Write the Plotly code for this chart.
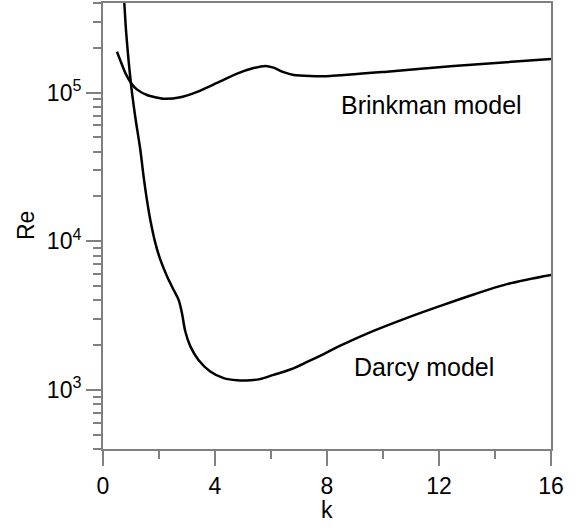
import plotly.graph_objects as go
import math

# Brinkman model curve
k_brinkman = [0.5, 0.62, 0.8, 1.0, 1.21, 1.57, 2.16, 2.76, 3.36, 4.07, 4.79, 5.38, 5.8, 6.09, 6.45,
              6.81, 7.4, 8.12, 10.14, 12.52, 16.0]
re_brinkman = [1.88e5, 1.64e5, 1.35e5, 1.16e5, 1.05e5, 9.62e4, 9.08e4, 9.29e4, 1.01e5, 1.16e5, 1.34e5,
               1.46e5, 1.51e5, 1.47e5, 1.37e5, 1.31e5, 1.29e5, 1.29e5, 1.38e5, 1.51e5, 1.68e5]

# Darcy model curve
k_darcy = [0.7, 0.76, 0.83, 1.0, 1.15, 1.33, 1.45, 1.57, 1.69, 1.87, 2.05, 2.29, 2.52, 2.70, 2.82,
           2.94, 3.12, 3.41, 3.83, 4.31, 4.79, 5.26, 5.6, 6.09, 6.69, 7.29, 7.88, 8.475, 9.66, 10.86,
           12.05, 13.24, 14.43, 16.0]
re_darcy = [5.5e5, 4.0e5, 2.5e5, 1.14e5, 6.9e4, 4.15e4, 2.72e4, 1.89e4, 1.39e4, 9.7e3, 7.48e3,
            5.78e3, 4.71e3, 4.03e3, 3.28e3, 2.47e3, 1.96e3, 1.59e3, 1.33e3, 1.20e3, 1.16e3,
            1.16e3, 1.18e3, 1.26e3, 1.37e3, 1.54e3, 1.74e3, 1.98e3, 2.49e3, 3.05e3, 3.67e3,
            4.38e3, 5.14e3, 5.93e3]

x_ticks = [0, 4, 8, 12, 16]
x_minor = [2, 6, 10, 14]
y_ticks = [1e3, 1e4, 1e5]
y_ticktext = ["10<sup>3</sup>", "10<sup>4</sup>", "10<sup>5</sup>"]
y_minor = [400, 500, 600, 700, 800, 900, 2e3, 3e3, 4e3, 5e3, 6e3, 7e3, 8e3, 9e3,
           2e4, 3e4, 4e4, 5e4, 6e4, 7e4, 8e4, 9e4, 2e5, 3e5, 4e5]

labels = ["Brinkman model", "Darcy model"]
label_x = [11.74, 11.45]
label_y = [8.25e4, 1.42e3]

FONT = "Liberation Sans, Arial, sans-serif"
AXC = "#808080"

fig = go.Figure()
fig.add_trace(go.Scatter(x=k_brinkman, y=re_brinkman, mode="lines",
                         line=dict(color="black", width=2.5, shape="spline", smoothing=0.6),
                         showlegend=False))
fig.add_trace(go.Scatter(x=k_darcy, y=re_darcy, mode="lines",
                         line=dict(color="black", width=2.5, shape="spline", smoothing=1.0),
                         showlegend=False))

for t, xv, yv in zip(labels, label_x, label_y):
    fig.add_annotation(x=xv, y=math.log10(yv), text=t, showarrow=False,
                       font=dict(family=FONT, size=25, color="black"),
                       xanchor="center", yanchor="middle")

# axis titles
fig.add_annotation(xref="paper", yref="paper", x=0.5, y=0, yshift=-61, text="k",
                   showarrow=False, font=dict(family=FONT, size=23, color="black"),
                   xanchor="center", yanchor="middle")
fig.add_annotation(xref="paper", yref="paper", x=0, y=0.5, xshift=-77, text="Re", textangle=-90,
                   showarrow=False, font=dict(family=FONT, size=23, color="black"),
                   xanchor="center", yanchor="middle")

fig.update_layout(
    width=578, height=528,
    margin=dict(l=103, r=27, t=3, b=79),
    paper_bgcolor="white", plot_bgcolor="white",
    font=dict(family=FONT, size=22, color="black"),
    xaxis=dict(
        range=[0, 16], tickmode="array", tickvals=x_ticks,
        ticks="outside", ticklen=15, tickwidth=1.5, tickcolor=AXC,
        showline=True, linecolor=AXC, linewidth=2, mirror=True,
        showgrid=False, zeroline=False, automargin=False,
        minor=dict(tickmode="array", tickvals=x_minor, ticks="outside", ticklen=8,
                   tickwidth=1.5, tickcolor=AXC, showgrid=False),
        tickfont=dict(size=23),
    ),
    yaxis=dict(
        type="log", range=[math.log10(400), math.log10(4e5)],
        tickmode="array", tickvals=y_ticks, ticktext=y_ticktext,
        ticks="outside", ticklen=15, tickwidth=1.5, tickcolor=AXC,
        showline=True, linecolor=AXC, linewidth=2, mirror=True,
        showgrid=False, zeroline=False, automargin=False,
        minor=dict(tickmode="array", tickvals=y_minor, ticks="outside", ticklen=8,
                   tickwidth=1.5, tickcolor=AXC, showgrid=False),
        tickfont=dict(size=23),
    ),
)

fig.write_html("out.html", config={"displayModeBar": False},
               post_script="document.body.style.margin='0';")
